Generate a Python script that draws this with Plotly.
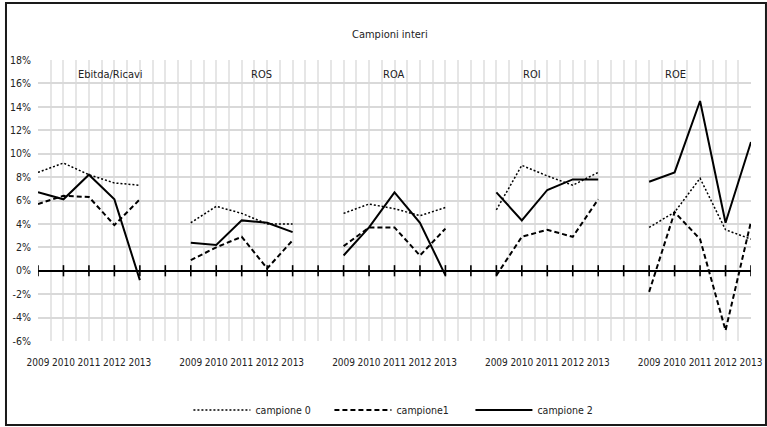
import plotly.graph_objects as go

# Indicators (one block of years each) and the years inside every block
indicators = ["Ebitda/Ricavi", "ROS", "ROA", "ROI", "ROE"]
years = ["2009", "2010", "2011", "2012", "2013"]

# Values in percent, one row per indicator
campione_0 = [
    [8.4, 9.2, 8.2, 7.5, 7.3],
    [4.1, 5.5, 4.9, 4.0, 4.0],
    [4.9, 5.7, 5.3, 4.7, 5.4],
    [5.2, 9.0, 8.1, 7.3, 8.4],
    [3.7, 5.0, 7.9, 3.5, 2.7],
]
campione_1 = [
    [5.7, 6.4, 6.3, 3.9, 6.1],
    [0.9, 2.0, 2.9, 0.2, 2.6],
    [2.1, 3.7, 3.7, 1.3, 3.6],
    [-0.4, 2.9, 3.5, 2.9, 6.1],
    [-1.8, 5.0, 2.7, -5.1, 4.2],
]
campione_2 = [
    [6.7, 6.1, 8.2, 6.1, -0.8],
    [2.4, 2.2, 4.3, 4.1, 3.3],
    [1.3, 3.7, 6.7, 4.1, -0.4],
    [6.7, 4.3, 6.9, 7.8, 7.8],
    [7.6, 8.4, 14.5, 4.1, 11.0],
]
series_names = ["campione 0", "campione1", "campione 2"]

y_tickvals = [18, 16, 14, 12, 10, 8, 6, 4, 2, 0, -2, -4, -6]
y_ticktext = ["18%", "16%", "14%", "12%", "10%", "8%", "6%", "4%", "2%", "0%", "-2%", "-4%", "-6%"]

FONT = "DejaVu Sans Condensed, Liberation Sans Narrow, sans-serif"
TXT = "#222"

# Category slots: each block of years is followed by one empty slot
slot = len(years) + 1
n_slots = len(indicators) * slot - 1
slot_x = list(range(n_slots))
slot_text = []
for s in slot_x:
    j = s % slot
    slot_text.append(years[j] if j < len(years) else "")


def build_xy(series):
    xs, ys = [], []
    for g, row in enumerate(series):
        for j, v in enumerate(row):
            xs.append(g * slot + j)
            ys.append(v)
        xs.append(None)
        ys.append(None)
    return xs, ys


styles = [
    dict(color="black", width=1.5, dash="2px,2px"),
    dict(color="black", width=2, dash="5px,3px"),
    dict(color="black", width=2),
]

fig = go.Figure()

# cross tick marks along the zero axis
fig.add_trace(go.Scatter(
    x=slot_x, y=[0] * n_slots, mode="markers",
    marker=dict(symbol="line-ns", size=8, line=dict(color="black", width=1.6)),
    showlegend=False, hoverinfo="skip",
))

for name, data, st in zip(series_names, [campione_0, campione_1, campione_2], styles):
    xs, ys = build_xy(data)
    fig.add_trace(go.Scatter(x=xs, y=ys, mode="lines", name=name, line=st,
                             connectgaps=False))

# Block headings
heading_x = [2.83, 8.76, 13.98, 19.4, 25.02]
for lab, hx in zip(indicators, heading_x):
    fig.add_annotation(x=hx, xref="x", y=0.947, yref="paper", text=lab,
                       showarrow=False, font=dict(family=FONT, size=11, color=TXT),
                       xanchor="center", yanchor="middle")

fig.add_annotation(x=0.4937, xref="paper", y=1.089, yref="paper", text="Campioni interi",
                   showarrow=False, font=dict(family=FONT, size=11, color=TXT),
                   xanchor="center", yanchor="middle")

# Outer chart frame
fig.add_shape(type="rect", xref="paper", yref="paper",
              x0=-0.0449, x1=1.021, y0=-0.299, y1=1.203,
              line=dict(color="#1a1a1a", width=2), fillcolor="rgba(0,0,0,0)", layer="above")

fig.update_layout(
    width=767, height=427,
    margin=dict(l=38, r=16, t=60, b=86, autoexpand=False),
    paper_bgcolor="white", plot_bgcolor="white",
    font=dict(family=FONT, size=11, color=TXT),
    showlegend=True,
    legend=dict(orientation="h", x=0.5076, xanchor="center", y=-0.2456, yanchor="middle",
                font=dict(family=FONT, size=10.5, color=TXT), bgcolor="rgba(0,0,0,0)",
                itemwidth=57, entrywidth=69, entrywidthmode="pixels"),
    xaxis=dict(
        range=[0, n_slots - 1], tickmode="array", tickvals=slot_x, ticktext=slot_text,
        tickangle=0, automargin=False,
        showgrid=True, gridcolor="#e6e6e6", gridwidth=1.5,
        minor=dict(tickmode="array", tickvals=[s + 0.5 for s in slot_x[:-1]],
                   showgrid=True, gridcolor="#e6e6e6", gridwidth=1.5),
        zeroline=False, showline=False, ticks="", ticklabelstandoff=14,
        tickfont=dict(family=FONT, size=10, color=TXT), fixedrange=True,
    ),
    yaxis=dict(
        range=[-6, 18], tickmode="array", tickvals=y_tickvals, ticktext=y_ticktext,
        automargin=False,
        showgrid=True, gridcolor="#d9d9d9", gridwidth=2,
        zeroline=True, zerolinecolor="black", zerolinewidth=2,
        showline=False, ticks="", ticklabelstandoff=6,
        tickfont=dict(family=FONT, size=10.5, color=TXT), fixedrange=True,
    ),
)

fig.write_html("out.html")
